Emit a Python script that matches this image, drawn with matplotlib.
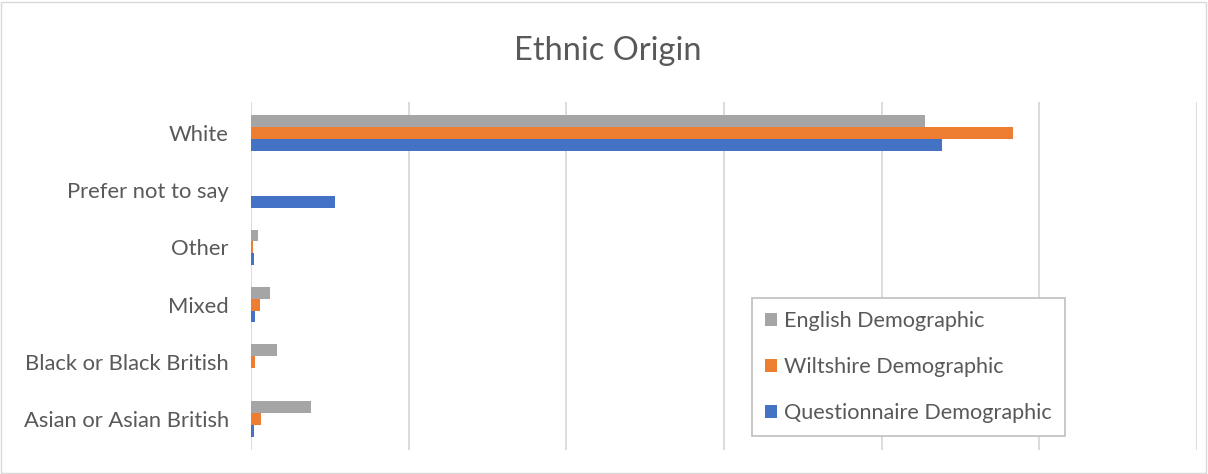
import matplotlib.pyplot as plt
import numpy as np
from matplotlib.patches import Rectangle

plt.rcParams['font.family'] = ['Lato', 'DejaVu Sans']

categories = ['Asian or Asian British', 'Black or Black British', 'Mixed', 'Other',
              'Prefer not to say', 'White']
english = [0.076, 0.033, 0.024, 0.0085, 0.0, 0.855]
wiltshire = [0.0123, 0.005, 0.0114, 0.0025, 0.0, 0.967]
questionnaire = [0.0034, 0.0005, 0.0055, 0.0034, 0.1064, 0.877]

W, H = 1208, 474
fig = plt.figure(figsize=(W / 100, H / 100), dpi=100)
ax = fig.add_axes([251 / W, 1 - 450 / H, (1197 - 251) / W, 348 / H])

y = np.arange(len(categories))
h = 0.21
txt = '#595959'
ax.barh(y + h, english, h, color='#A5A5A5', label='English Demographic')
ax.barh(y, wiltshire, h, color='#ED7D31', label='Wiltshire Demographic')
ax.barh(y - h, questionnaire, h, color='#4472C4', label='Questionnaire Demographic')

ax.set_xlim(0, 1.2)
ax.set_ylim(-0.55, 5.55)
ax.set_xticks(np.arange(0, 1.21, 0.2))
ax.set_xticklabels([])
ax.tick_params(axis='x', length=0)
ax.tick_params(axis='y', length=0, labelsize=15.8, labelcolor=txt, pad=16)
ax.set_yticks(y)
ax.set_yticklabels(categories)
ax.grid(axis='x', color='#D9D9D9', linewidth=1.3)
ax.set_axisbelow(True)
for s in ax.spines.values():
    s.set_visible(False)

fig.text(608 / W, 1 - 51 / H, 'Ethnic Origin', ha='center', va='center',
         fontsize=23.5, color=txt)

leg = ax.legend(loc='lower left', bbox_to_anchor=((752 - 251) / (1197 - 251), (450 - 436) / 348),
                fontsize=15.6, labelcolor=txt, handlelength=0.55, handleheight=0.55,
                labelspacing=1.2, borderpad=0.6, handletextpad=0.35, borderaxespad=0,
                fancybox=False, framealpha=1)
leg.get_frame().set_edgecolor('#BFBFBF')
leg.get_frame().set_linewidth(1.2)

fig.patches.append(Rectangle((1 / W, 1 / H), 1 - 3 / W, 1 - 3 / H, transform=fig.transFigure,
                             fill=False, edgecolor='#D9D9D9', linewidth=1))

fig.savefig('out.png', dpi=100)
